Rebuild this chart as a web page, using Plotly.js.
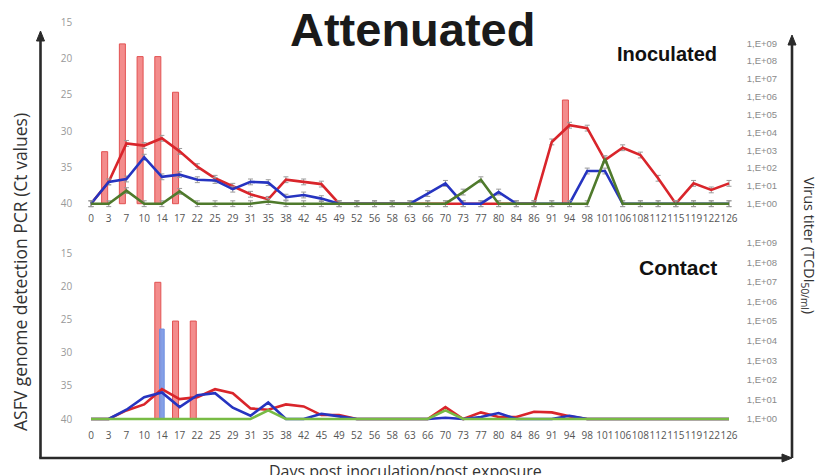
<!DOCTYPE html>
<html>
<head>
<meta charset="utf-8">
<script src="https://cdn.plot.ly/plotly-3.0.1.min.js"></script>
<style>html,body{margin:0;padding:0;background:#fff;}#chart{width:821px;height:475px;}</style>
</head>
<body>
<div id="chart"></div>
<script>
// ---- data ----
const days = ['0','3','7','10','14','17','22','25','29','31','35','38','42','45','49','52','56','58','63','66','70','73','77','80','84','86','91','94','98','101','106','108','112','115','119','122','126'];

// Inoculated: Ct values (left axis)
const inocRed   = [40,37.0,31.7,32.0,31.0,32.8,34.9,36.5,37.6,38.7, 39.4,36.7,37.0,37.3,40,40,40,40,40,40, 40,40,40,40,40,40,31.5,29.2,29.6,34.0, 32.3,33.3,36.5,40,37.2,38.1,37.2];
const inocBlue  = [40,37.0,36.6,33.6,36.3,36.0,36.7,36.8,38.0,37.0, 37.1,39.1,38.8,39.3,40,40,40,40,40,38.6, 37.2,40,40,38.4,40,40,40,40,35.5,35.5, 40,40,40,40,40,40,40];
const inocGreen = [40,40,38.2,40,40,38.3,40,40,40,40, 39.7,40,40,40,40,40,40,40,40,40, 40,38.4,36.7,40,40,40,40,40,40,33.8, 40,40,40,40,40,40,40];
// Inoculated: virus titer bars (right axis)
const inocTiterRed = [null,830,9.3e8,1.8e8,1.8e8,1.8e6,null,null,null,null, null,null,null,null,null,null,null,null,null,null, null,null,null,null,null,null,null,6.6e5,null,null, null,null,null,null,null,null,null];

// Contact: Ct values (left axis)
const contRed   = [40,40,38.7,37.8,35.5,37.0,36.7,35.5,36.1,38.4, 38.6,37.8,38.1,39.4,39.4,40,40,40,40,40, 38.2,40,39.0,39.7,39.7,38.9,39.0,39.6,40,40, 40,40,40,40,40,40,40];
const contBlue  = [40,40,38.6,36.7,36.0,38.2,36.4,36.1,38.3,39.5, 37.5,40,40,39.2,39.6,40,40,40,40,40, 39.8,40,39.7,39.1,40,40,40,39.5,40,40, 40,40,40,40,40,40,40];
const contGreen = [40,40,40,40,40,40,40,40,40,40, 38.7,40,40,40,40,40,40,40,40,40, 38.7,40,40,40,40,40,40,40,40,40, 40,40,40,40,40,40,40];
// Contact: virus titer bars (right axis)
const contTiterRed  = [null,null,null,null,9.5e6,1e5,1e5,null,null,null, null,null,null,null,null,null,null,null,null,null, null,null,null,null,null,null,null,null,null,null, null,null,null,null,null,null,null];
const contTiterBlue = [null,null,null,null,3.9e4,null,null,null,null,null, null,null,null,null,null,null,null,null,null,null, null,null,null,null,null,null,null,null,null,null, null,null,null,null,null,null,null];

const ctTicks = [15,20,25,30,35,40];
const titerTicks = [1,10,100,1e3,1e4,1e5,1e6,1e7,1e8,1e9];
const titerTickText = ['1,E+00','1,E+01','1,E+02','1,E+03','1,E+04','1,E+05','1,E+06','1,E+07','1,E+08','1,E+09'];

// ---- helpers ----
const W = 821, H = 475;
const px = x => x / W;
const py = y => 1 - y / H;

const RED = '#d9252b', BLUE = '#2634c0', GREEN_DK = '#4f7a2c', GREEN_LT = '#78bb45';
const errStyle = {type:'constant', value:0.4, color:'#9a9a9a', thickness:1, width:2.5};

function line(y, color, xa, ya, err) {
  return {type:'scatter', mode:'lines', x:days, y:y, xaxis:xa, yaxis:ya,
    line:{color:color, width:2.6}, error_y: err ? errStyle : {visible:false},
    hoverinfo:'skip', showlegend:false};
}
function bars(y, fill, edge, xa, ya, off, wid) {
  return {type:'bar', x:days, y:y, xaxis:xa, yaxis:ya, base:1,
    offset:off, width:wid,
    marker:{color:fill, line:{color:edge, width:1}}, hoverinfo:'skip', showlegend:false};
}

const data = [
  bars(inocTiterRed, 'rgba(242,128,128,0.9)', '#e25252', 'x', 'y', -0.40, 0.34),
  line(inocRed, RED, 'x', 'y2', true),
  line(inocBlue, BLUE, 'x', 'y2', true),
  line(inocGreen, GREEN_DK, 'x', 'y2', true),
  bars(contTiterRed, 'rgba(242,128,128,0.9)', '#e25252', 'x2', 'y3', -0.40, 0.34),
  bars(contTiterBlue, 'rgba(125,155,230,0.95)', '#6f8fe0', 'x2', 'y3', -0.13, 0.26),
  line(contRed, RED, 'x2', 'y4', false),
  line(contBlue, BLUE, 'x2', 'y4', false),
  line(contGreen, GREEN_LT, 'x2', 'y4', false)
];

const tickFontX = {family:'Open Sans, Liberation Sans, sans-serif', size:10, color:'#555'};
const tickFontCt = {family:'Open Sans, Liberation Sans, sans-serif', size:10, color:'#999'};
const tickFontTi = {family:'Liberation Sans Narrow, Liberation Sans, sans-serif', size:9.5, color:'#8a8a8a'};

const xdom = [px(82.14), px(737.86)];
const topDom = [py(208), py(22)];
const botDom = [py(423), py(236)];

function xaxis(anchor, tl) {
  return {type:'category', domain:xdom, anchor:anchor, range:[-0.5,36.5],
    showgrid:false, zeroline:false, showline:false,
    ticks:'outside', ticklen:tl, tickcolor:'rgba(0,0,0,0)', tickfont:tickFontX, tickangle:0, fixedrange:true};
}
function ctAxis(dom, range, overlay, anchor) {
  return {domain:dom, range:range, overlaying:overlay, anchor:anchor, side:'left',
    tickvals:ctTicks, showgrid:false, zeroline:false, showline:false,
    ticks:'outside', ticklen:7, tickcolor:'rgba(0,0,0,0)', tickfont:tickFontCt, fixedrange:true};
}
function titerAxis(dom, range, anchor) {
  return {domain:dom, type:'log', range:range, anchor:anchor, side:'right',
    tickvals:titerTicks, ticktext:titerTickText, showgrid:false, zeroline:false, showline:false,
    ticks:'outside', ticklen:6, tickcolor:'rgba(0,0,0,0)', tickfont:tickFontTi, fixedrange:true};
}

const AX = '#2a2a2a';
function seg(x0, y0, x1, y1) {
  return {type:'line', xref:'paper', yref:'paper', x0:px(x0), y0:py(y0), x1:px(x1), y1:py(y1),
    line:{color:AX, width:2.6}};
}
function tri(p) {
  const d = 'M ' + p.map(q => px(q[0]) + ',' + py(q[1])).join(' L ') + ' Z';
  return {type:'path', xref:'paper', yref:'paper', path:d, fillcolor:AX, line:{color:AX, width:1}};
}

const layout = {
  width:W, height:H,
  margin:{l:0, r:0, t:0, b:0, pad:0},
  paper_bgcolor:'#ffffff', plot_bgcolor:'rgba(0,0,0,0)',
  showlegend:false, barmode:'overlay',
  xaxis: xaxis('y', 1),
  yaxis: titerAxis(topDom, [-0.241, 10.197], 'x'),
  yaxis2: ctAxis(topDom, [40.59, 15], 'y', 'x'),
  xaxis2: xaxis('y3', 2.5),
  yaxis3: titerAxis(botDom, [-0.204, 9.341], 'x2'),
  yaxis4: ctAxis(botDom, [40.60, 12.39], 'y3', 'x2'),
  shapes: [
    seg(40.5, 40, 40.5, 458),
    seg(792, 44, 792, 458),
    seg(39.2, 458, 783, 458),
    tri([[40.5, 31], [36.5, 41], [44.5, 41]]),
    tri([[792, 35], [788, 45], [796, 45]]),
    tri([[792, 458], [782, 454], [782, 462]])
  ],
  annotations: [
    {xref:'paper', yref:'paper', x:px(412), y:py(29.5), xanchor:'center', yanchor:'middle',
     text:'<b>Attenuated</b>', showarrow:false, font:{family:'Liberation Sans, Arial, sans-serif', size:47, color:'#1a1a1a'}},
    {xref:'paper', yref:'paper', x:px(719), y:py(54.5), xanchor:'right', yanchor:'middle',
     text:'<b>Inoculated</b>', showarrow:false, font:{family:'Liberation Sans, Arial, sans-serif', size:20, color:'#111'}},
    {xref:'paper', yref:'paper', x:px(719), y:py(267.5), xanchor:'right', yanchor:'middle',
     text:'<b>Contact</b>', showarrow:false, font:{family:'Liberation Sans, Arial, sans-serif', size:21, color:'#111'}},
    {xref:'paper', yref:'paper', x:px(20), y:py(272), xanchor:'center', yanchor:'middle', textangle:-90,
     text:'ASFV genome detection PCR (Ct values)', showarrow:false, font:{family:'Open Sans, sans-serif', size:17.5, color:'#333'}},
    {xref:'paper', yref:'paper', x:px(809), y:py(245), xanchor:'center', yanchor:'middle', textangle:90,
     text:'Virus titer (TCDI<sub>50/ml</sub>)', showarrow:false, font:{family:'Open Sans, sans-serif', size:14.5, color:'#333'}},
    {xref:'paper', yref:'paper', x:px(405), y:py(471), xanchor:'center', yanchor:'middle',
     text:'Days post inoculation/post exposure', showarrow:false, font:{family:'Open Sans, sans-serif', size:16, color:'#333'}}
  ]
};

Plotly.newPlot('chart', data, layout, {staticPlot:true, displayModeBar:false});
</script>
</body>
</html>
